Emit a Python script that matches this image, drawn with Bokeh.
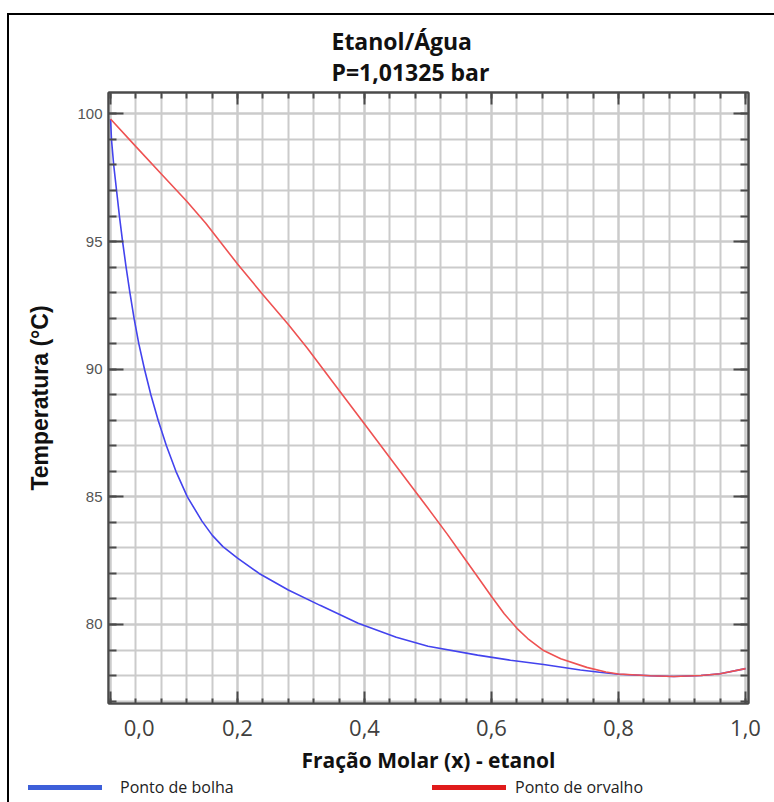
from bokeh.plotting import figure
from bokeh.layouts import column
from bokeh.models import (Range1d, LinearAxis, FixedTicker, SingleIntervalTicker,
                          CustomJSTickFormatter, Title, Div)
from bokeh.embed import file_html
from bokeh.resources import INLINE

# ---------------- data ----------------
x_bolha = [0.000, 0.0015, 0.005, 0.0095, 0.014, 0.019, 0.0245, 0.0305, 0.037, 0.0445,
           0.0535, 0.0635, 0.075, 0.088, 0.103, 0.121, 0.144, 0.160, 0.177, 0.200,
           0.234, 0.280, 0.330, 0.390, 0.450, 0.500, 0.578, 0.630, 0.682, 0.740,
           0.770, 0.800, 0.850, 0.887, 0.930, 0.960, 1.000]
t_bolha = [99.80, 99.0, 98.0, 97.0, 96.0, 95.0, 94.0, 93.0, 92.0, 91.0,
           90.0, 89.0, 88.0, 87.0, 86.0, 85.0, 84.05, 83.5, 83.05, 82.6,
           82.0, 81.35, 80.75, 80.05, 79.5, 79.15, 78.8, 78.6, 78.43, 78.22,
           78.13, 78.05, 77.99, 77.96, 78.0, 78.07, 78.27]

x_orvalho = [0.000, 0.040, 0.080, 0.120, 0.150, 0.200, 0.240, 0.280, 0.310, 0.350,
             0.400, 0.450, 0.500, 0.530, 0.550, 0.580, 0.600, 0.620, 0.640, 0.657,
             0.682, 0.709, 0.750, 0.780, 0.800, 0.850, 0.887, 0.930, 0.960, 1.000]
t_orvalho = [99.80, 98.72, 97.65, 96.58, 95.72, 94.12, 92.92, 91.75, 90.82, 89.50,
             87.85, 86.20, 84.55, 83.55, 82.85, 81.80, 81.10, 80.42, 79.85, 79.45,
             78.98, 78.66, 78.32, 78.14, 78.06, 77.99, 77.96, 78.0, 78.07, 78.27]

x_major = [0.0, 0.2, 0.4, 0.6, 0.8, 1.0]
x_minor = [round(0.04 * k, 2) for k in range(0, 26)]

title_1 = "Etanol/Água"
title_2 = "P=1,01325 bar"
x_title = "Fração Molar (x) - etanol"
y_title = "Temperatura (°C)"
leg_bolha = "Ponto de bolha"
leg_orvalho = "Ponto de orvalho"
col_bolha, col_orvalho = "#4343ee", "#ee5252"
leg_col_bolha, leg_col_orvalho = "#3d5fd9", "#e01b1b"

X_MIN, X_MAX = -0.0032, 1.0047
Y_MIN, Y_MAX = 76.905, 100.84

W, H_MAIN, H_LEG = 765, 762, 25
FRAME = "#4a4a4a"

# ---------------- figure ----------------
p = figure(width=W, height=H_MAIN, output_backend="svg", toolbar_location=None,
           x_range=Range1d(X_MIN, X_MAX), y_range=Range1d(Y_MIN, Y_MAX),
           x_axis_location=None, y_axis_location=None,
           min_border_left=99, min_border_right=26, min_border_top=77,
           min_border_bottom=74)
p.title_location = None
p.background_fill_color = "white"
p.border_fill_color = "white"
p.outline_line_color = FRAME
p.outline_line_width = 2

xt = FixedTicker(ticks=x_major, minor_ticks=x_minor)
yt = SingleIntervalTicker(interval=5, num_minor_ticks=5)

fmt_x = CustomJSTickFormatter(code="""
if (Math.abs(tick) < 1e-9) { return '\\u00a0'.repeat(10) + '0,0'; }
return tick.toFixed(1).replace('.', ',');
""")
fmt_y = CustomJSTickFormatter(code="return tick.toFixed(0);")
fmt_none = CustomJSTickFormatter(code="return '';")

def style_axis(ax, major_in, minor_in):
    ax.axis_line_color = FRAME
    ax.axis_line_width = 2
    ax.major_tick_line_color = FRAME
    ax.minor_tick_line_color = FRAME
    ax.major_tick_line_width = 2
    ax.minor_tick_line_width = 2
    ax.major_tick_in = major_in
    ax.major_tick_out = 0
    ax.minor_tick_in = minor_in
    ax.minor_tick_out = 0

xb = LinearAxis(ticker=xt, formatter=fmt_x)
style_axis(xb, 12, 5)
xb.major_label_text_font = "Open Sans"
xb.major_label_text_font_size = "22px"
xb.major_label_text_color = "#404040"
xb.major_label_standoff = 8
xb.axis_label = x_title
xb.axis_label_text_font = "Open Sans"
xb.axis_label_text_font_style = "bold"
xb.axis_label_text_font_size = "21px"
xb.axis_label_text_color = "#111111"
xb.axis_label_standoff = 1
p.add_layout(xb, "below")

xa = LinearAxis(ticker=xt, formatter=fmt_none)
style_axis(xa, 12, 6)
xa.major_label_standoff = 0
p.add_layout(xa, "above")

yl = LinearAxis(ticker=yt, formatter=fmt_y)
style_axis(yl, 15, 8)
yl.major_label_text_font = "Liberation Sans"
yl.major_label_text_font_size = "15px"
yl.major_label_text_color = "#555555"
yl.major_label_standoff = 6
yl.axis_label = y_title
yl.axis_label_text_font = "Liberation Sans"
yl.axis_label_text_font_style = "bold"
yl.axis_label_text_font_size = "23px"
yl.axis_label_text_color = "#111111"
yl.axis_label_standoff = 21
p.add_layout(yl, "left")

yr = LinearAxis(ticker=yt, formatter=fmt_none)
style_axis(yr, 15, 8)
yr.major_label_standoff = 0
p.add_layout(yr, "right")

# title lines (side panel above, stacked outward from the frame)
for txt, so in ((title_2, 10), (title_1, -16)):
    p.add_layout(Title(text=txt, align="left", offset=223, standoff=so,
                       text_font="Open Sans", text_font_style="bold",
                       text_font_size="23px", text_color="#111111"), "above")

# grid on every (minor) tick
p.xgrid.ticker = xt
p.ygrid.ticker = yt
for g in (p.xgrid[0], p.ygrid[0]):
    g.grid_line_color = "#cbcbcb"
    g.grid_line_width = 2
    g.minor_grid_line_color = "#cbcbcb"
    g.minor_grid_line_width = 2

# curves
p.line(x_bolha, t_bolha, line_color=col_bolha, line_width=1.6)
p.line(x_orvalho, t_orvalho, line_color=col_orvalho, line_width=1.6)

# ---------------- legend strip (below the chart, left of the frame too) ----------------
def swatch(left, color):
    return (f'<span style="position:absolute;left:{left}px;top:8px;width:74px;'
            f'height:5px;background:{color};"></span>')

def label(left, text):
    return (f'<span style="position:absolute;left:{left}px;top:0px;'
            f'line-height:21px;white-space:nowrap;">{text}</span>')

leg_html = ('<div style="position:relative;width:765px;height:25px;'
            'font-family:\'Open Sans\';font-size:16px;color:#222222;">'
            + swatch(19, leg_col_bolha) + label(111, leg_bolha)
            + swatch(423, leg_col_orvalho) + label(506, leg_orvalho)
            + '</div>')
leg = Div(text=leg_html, width=W, height=H_LEG, margin=(0, 0, 0, 0))

layout = column(p, leg, spacing=0, margin=(13, 0, 0, 7),
                styles={"border-left": "2px solid #000", "border-top": "2px solid #000"})

open("out.html", "w").write(file_html(layout, INLINE))
